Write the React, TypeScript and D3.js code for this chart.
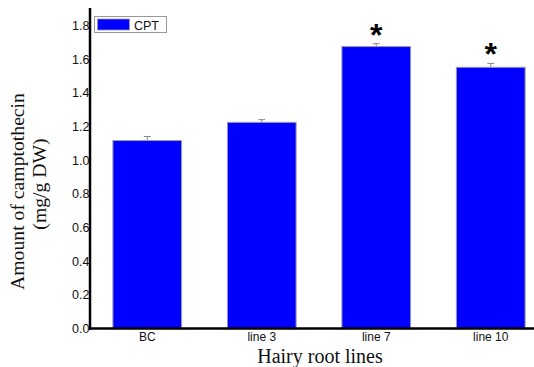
import React from "react";
import * as d3 from "d3";

const categories = ["BC", "line 3", "line 7", "line 10"];
const values = [1.116, 1.224, 1.674, 1.551];
const errors = [0.024, 0.016, 0.017, 0.023];
const significant = [false, false, true, true];
const yTicks = [0, 0.2, 0.4, 0.6, 0.8, 1.0, 1.2, 1.4, 1.6, 1.8];
const seriesName = "CPT";

export default function App() {
  const W = 534, H = 367;
  const x0 = 90, yBase = 328.5;
  const y = d3.scaleLinear().domain([0, 1.9]).range([yBase, 8.5]);
  const x = d3.scaleBand<string>().domain(categories).range([x0, 548]).paddingInner(0.4).paddingOuter(0.2);
  const bw = x.bandwidth();
  const sans = "Arial, Liberation Sans, sans-serif";
  const serif = "Liberation Serif, Times New Roman, serif";
  return (
    <svg width={W} height={H} style={{ position: "absolute", left: 0, top: 0, background: "#fff" }}>
      {values.map((v, i) => {
        const c = categories[i];
        const bx = x(c)!;
        const cx = bx + bw / 2;
        return (
          <g key={c}>
            <line x1={cx} x2={cx} y1={y(v)} y2={y(v + errors[i])} stroke="#888" strokeWidth={1} />
            <line x1={cx - 3.5} x2={cx + 3.5} y1={y(v + errors[i])} y2={y(v + errors[i])} stroke="#888" strokeWidth={1} />
            <rect x={bx} y={y(v)} width={bw} height={yBase - y(v)} fill="#0000ff" stroke="#9a9aa8" strokeWidth={1} />
            {significant[i] && (
              <text x={cx} y={y(v + errors[i]) + 2} textAnchor="middle" fontFamily={sans} fontSize={32} fontWeight="bold" fill="#000">*</text>
            )}
            <text x={cx} y={yBase + 12.5} textAnchor="middle" fontFamily={sans} fontSize={12} fill="#111">{c}</text>
          </g>
        );
      })}
      {yTicks.map((t) => (
        <text key={t} x={x0 - 0.5} y={y(t) + 4.5} textAnchor="end" fontFamily={sans} fontSize={12.5} fill="#111">{t.toFixed(1)}</text>
      ))}
      <line x1={x0} x2={x0} y1={8} y2={yBase + 1.5} stroke="#000" strokeWidth={2.5} />
      <line x1={x0 - 1} x2={W} y1={yBase} y2={yBase} stroke="#000" strokeWidth={2.5} />
      <g>
        <rect x={94.5} y={16.5} width={72} height={16} fill="#fff" stroke="#999" strokeWidth={1} />
        <rect x={97.5} y={19} width={32} height={11} fill="#0000ff" stroke="#9a9aa8" strokeWidth={0.8} />
        <text x={134} y={29.5} fontFamily={sans} fontSize={12.5} fill="#111">{seriesName}</text>
      </g>
      <text transform="translate(24,191.5) rotate(-90)" textAnchor="middle" fontFamily={serif} fontSize={19.7} fill="#111">Amount of camptothecin</text>
      <text transform="translate(46,184) rotate(-90)" textAnchor="middle" fontFamily={serif} fontSize={19.7} fill="#111">(mg/g DW)</text>
      <text x={320} y={363} textAnchor="middle" fontFamily={serif} fontSize={20} fill="#111">Hairy root lines</text>
    </svg>
  );
}
